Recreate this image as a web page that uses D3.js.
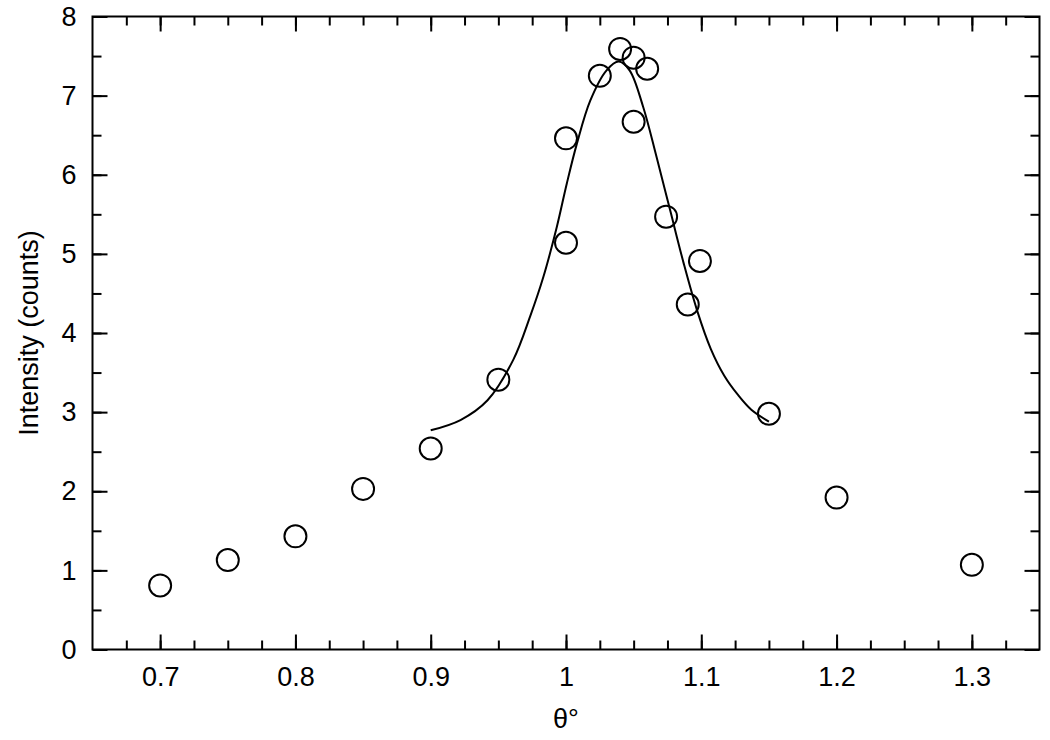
<!DOCTYPE html>
<html>
<head>
<meta charset="utf-8">
<script src="https://d3js.org/d3.v7.min.js"></script>
<style>
  body { margin: 0; background: #fff; }
  text { font-family: "Liberation Sans", Arial, Helvetica, sans-serif; fill: #000; }
</style>
</head>
<body>
<script>
// measured points
const thetaVals = [0.70, 0.75, 0.80, 0.85, 0.90, 0.95, 1.00, 1.00, 1.025, 1.040, 1.050, 1.060, 1.050, 1.074, 1.099, 1.090, 1.15, 1.20, 1.30];
const countVals = [0.81, 1.13, 1.43, 2.03, 2.54, 3.41, 6.46, 5.14, 7.25, 7.59, 7.48, 7.34, 6.67, 5.47, 4.91, 4.36, 2.98, 1.92, 1.07];

// fitted curve
const fitTheta = [0.900, 0.922, 0.942, 0.961, 0.9735, 0.9833, 0.9932, 1.0006, 1.008, 1.018, 1.030, 1.039,
                  1.047, 1.057, 1.067, 1.077, 1.087, 1.097, 1.107, 1.117, 1.127, 1.137, 1.150];
const fitCount = [2.77, 2.90, 3.15, 3.66, 4.21, 4.71, 5.34, 5.89, 6.39, 6.94, 7.32, 7.43,
                  7.32, 6.86, 6.22, 5.55, 4.88, 4.28, 3.80, 3.46, 3.22, 3.03, 2.88];

const xTicks = [0.7, 0.8, 0.9, 1.0, 1.1, 1.2, 1.3];
const xTickLabels = ["0.7", "0.8", "0.9", "1", "1.1", "1.2", "1.3"];
const yTicks = [0, 1, 2, 3, 4, 5, 6, 7, 8];

const width = 1050, height = 740;
const margin = {left: 92.5, right: 10.5, top: 16.5, bottom: 90.5};
const w = width - margin.left - margin.right;
const h = height - margin.top - margin.bottom;
const fontSize = "27px";

const svg = d3.select("body").append("svg")
    .attr("width", width)
    .attr("height", height);

const g = svg.append("g")
    .attr("transform", `translate(${margin.left},${margin.top})`);

const x = d3.scaleLinear().domain([0.65, 1.35]).range([0, w]);
const y = d3.scaleLinear().domain([0, 8]).range([h, 0]);

const xMinor = d3.range(0.675, 1.34, 0.025);
const yMinor = d3.range(0.5, 8, 0.5);

function styleAxis(sel) {
    sel.select(".domain").remove();
    sel.selectAll(".tick line").attr("stroke", "#000").attr("stroke-width", 2);
    sel.selectAll(".tick text").style("font-size", fontSize).attr("fill", "#000");
}

// minor ticks, all sides
g.append("g").attr("transform", `translate(0,${h})`)
    .call(d3.axisBottom(x).tickValues(xMinor).tickSize(-9).tickFormat(""))
    .call(styleAxis);
g.append("g")
    .call(d3.axisTop(x).tickValues(xMinor).tickSize(-9).tickFormat(""))
    .call(styleAxis);
g.append("g")
    .call(d3.axisLeft(y).tickValues(yMinor).tickSize(-9).tickFormat(""))
    .call(styleAxis);
g.append("g").attr("transform", `translate(${w},0)`)
    .call(d3.axisRight(y).tickValues(yMinor).tickSize(-9).tickFormat(""))
    .call(styleAxis);

// major ticks
g.append("g").attr("transform", `translate(0,${h})`)
    .call(d3.axisBottom(x).tickValues(xTicks).tickSize(-15).tickPadding(17)
        .tickFormat((d, i) => xTickLabels[i]))
    .call(styleAxis);
g.append("g")
    .call(d3.axisTop(x).tickValues(xTicks).tickSize(-15).tickFormat(""))
    .call(styleAxis);
g.append("g")
    .call(d3.axisLeft(y).tickValues(yTicks).tickSize(-15).tickPadding(16)
        .tickFormat(d3.format("d")))
    .call(styleAxis);
g.append("g").attr("transform", `translate(${w},0)`)
    .call(d3.axisRight(y).tickValues(yTicks).tickSize(-15).tickFormat(""))
    .call(styleAxis);

// frame
g.append("rect")
    .attr("width", w).attr("height", h)
    .attr("fill", "none").attr("stroke", "#000").attr("stroke-width", 2);

// fit curve
const line = d3.line()
    .x((d, i) => x(fitTheta[i]))
    .y(d => y(d))
    .curve(d3.curveCatmullRom);

g.append("path")
    .datum(fitCount)
    .attr("d", line)
    .attr("fill", "none")
    .attr("stroke", "#000")
    .attr("stroke-width", 2);

// data points
g.selectAll("circle.pt")
    .data(countVals)
    .join("circle")
    .attr("class", "pt")
    .attr("cx", (d, i) => x(thetaVals[i]))
    .attr("cy", d => y(d))
    .attr("r", 11)
    .attr("fill", "none")
    .attr("stroke", "#000")
    .attr("stroke-width", 2);

// axis titles
svg.append("text")
    .attr("x", margin.left + x(1.0))
    .attr("y", 728)
    .attr("text-anchor", "middle")
    .style("font-size", fontSize)
    .text("θ°");

svg.append("text")
    .attr("transform", `translate(38,${margin.top + h / 2}) rotate(-90)`)
    .attr("text-anchor", "middle")
    .style("font-size", fontSize)
    .text("Intensity (counts)");
</script>
</body>
</html>
